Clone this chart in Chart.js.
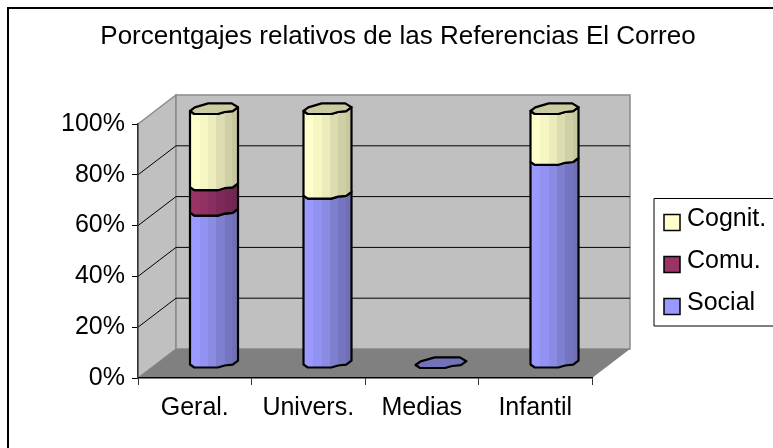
<!DOCTYPE html>
<html><head><meta charset="utf-8">
<style>html,body{margin:0;padding:0;background:#fff}canvas{display:block}</style>
<script src="https://cdn.jsdelivr.net/npm/chart.js@4/dist/chart.umd.min.js"></script>
</head><body><canvas id="c" width="773" height="448"></canvas>
<script>
const categories = ['Geral.', 'Univers.', 'Medias', 'Infantil'];
const social = [60, 66.7, 0, 80];
const comu = [10, 0, 0, 0];
const cognit = [30, 33.3, 0, 20];
const titleText = 'Porcentgajes relativos de las Referencias El Correo';
const FONT = '"Liberation Sans", Arial, sans-serif';

const depth = {dx: 38, dy: -29};           // wall depth
const mid = {dx: 19.25, dy: -13};          // plane of the cylinders
const front = [[0,0],[.09,3],[.58,3],[.72,1],[.89,.2],[1,-3.8]];
const back = [[1,-3.8],[.87,-7.6],[.38,-7.6],[.1,-3.6],[0,0]];
const shades = {
  Social: {stops:['#9999ff','#9292f2','#8b8be4','#7f7fd0','#7575bf','#7070b6'], cap:'#7272b8'},
  'Comu.': {stops:['#993366','#923163','#892e5f','#7d2a58','#752853','#6f2650'], cap:'#7a2a52'},
  'Cognit.': {stops:['#ffffcc','#f6f6c4','#ebebbb','#dcdcb0','#d0d0a6','#c8c8a0'], cap:'#ccccA3'}
};
const facet = [0,.2,.38,.55,.72,.88,1];

function trace(ctx, pts, x, y, w, move){
  pts.forEach((p,i)=>{ const X=x+p[0]*w, Y=y+p[1]; (i===0&&move)?ctx.moveTo(X,Y):ctx.lineTo(X,Y); });
}
function drawCyl(ctx, el, s, showCap){
  const w = el.width, x = el.x - w/2 + mid.dx;
  const yt = el.y + mid.dy, yb = el.base + mid.dy;
  ctx.save();
  ctx.lineJoin='round'; ctx.lineWidth=2.2; ctx.strokeStyle='#000';
  if (yb - yt > 0.5){
    const g = ctx.createLinearGradient(x,0,x+w,0);
    s.stops.forEach((c,i)=>{ g.addColorStop(facet[i],c); g.addColorStop(facet[i+1],c); });
    ctx.beginPath();
    trace(ctx, front, x, yb, w, true);
    trace(ctx, front.slice().reverse(), x, yt, w, false);
    ctx.closePath(); ctx.fillStyle=g; ctx.fill(); ctx.stroke();
  }
  if (showCap){
    const capW = yb - yt > 0.5 ? w : w*1.06, cx = x + (w-capW)/2;
    ctx.beginPath();
    trace(ctx, front, cx, yt, capW, true);
    trace(ctx, back, cx, yt, capW, false);
    ctx.closePath(); ctx.fillStyle=s.cap; ctx.fill(); ctx.stroke();
  }
  ctx.restore();
}

const scene3d = {
  id:'scene3d',
  beforeDatasetDraw(){ return false; },
  afterLayout(chart){ chart.titleBlock.left = 0; chart.titleBlock.right = 796; },
  beforeDraw(chart){
    const {ctx, scales:{x,y}, chartArea:a} = chart;
    const l=a.left, r=a.right, t=a.top, b=a.bottom, d=depth;
    ctx.save();
    // outer frame
    ctx.strokeStyle='#000'; ctx.lineWidth=2;
    ctx.beginPath(); ctx.moveTo(8,448); ctx.lineTo(8,8); ctx.lineTo(773,8); ctx.stroke();
    // walls
    ctx.lineWidth=1.5; ctx.strokeStyle='#8a8a8a'; ctx.fillStyle='#c0c0c0';
    ctx.beginPath(); ctx.moveTo(l,t); ctx.lineTo(l+d.dx,t+d.dy); ctx.lineTo(l+d.dx,b+d.dy); ctx.lineTo(l,b); ctx.closePath(); ctx.fill(); ctx.stroke();
    ctx.beginPath(); ctx.rect(l+d.dx,t+d.dy,r-l,b-t); ctx.fill(); ctx.stroke();
    ctx.fillStyle='#808080';
    ctx.beginPath(); ctx.moveTo(l,b); ctx.lineTo(l+d.dx,b+d.dy); ctx.lineTo(r+d.dx,b+d.dy); ctx.lineTo(r,b); ctx.closePath(); ctx.fill();
    // grid on the walls
    ctx.strokeStyle='#000'; ctx.lineWidth=1;
    y.ticks.forEach(tk=>{
      if (tk.value===0 || tk.value===100) return;
      const p=y.getPixelForValue(tk.value);
      ctx.beginPath(); ctx.moveTo(l,p); ctx.lineTo(l+d.dx,p+d.dy); ctx.lineTo(r+d.dx,p+d.dy); ctx.stroke();
    });
    ctx.restore();
  },
  afterDatasetsDraw(chart){
    const ctx=chart.ctx, n=chart.data.datasets.length;
    chart.data.datasets.forEach((ds,i)=>{
      chart.getDatasetMeta(i).data.forEach((el,j)=>{
        const allZero = chart.data.datasets.every(o=>o.data[j]===0);
        if (allZero) { if (i===0) drawCyl(ctx, el, shades[ds.label], true); return; }
        if (ds.data[j]>0) drawCyl(ctx, el, shades[ds.label], i===n-1);
      });
    });
    // legend
    ctx.save();
    ctx.strokeStyle='#000'; ctx.lineWidth=1; ctx.fillStyle='#fff';
    ctx.beginPath(); ctx.moveTo(775,198.5); ctx.lineTo(654,198.5); ctx.lineTo(654,326); ctx.lineTo(775,326); ctx.fill(); ctx.stroke();
    ctx.textBaseline='middle'; ctx.textAlign='left'; ctx.font='25px '+FONT;
    chart.data.datasets.slice().reverse().forEach((ds,i)=>{
      const yy=214.5+i*42;
      ctx.fillStyle=ds.backgroundColor; ctx.lineWidth=1.5; ctx.strokeStyle='#000';
      ctx.fillRect(664,yy,16,16); ctx.strokeRect(664,yy,16,16);
      ctx.fillStyle='#000'; ctx.fillText(ds.label,687,yy+5);
    });
    ctx.restore();
  }
};

new Chart(document.getElementById('c'), {
  type:'bar',
  data:{labels:categories, datasets:[
    {label:'Social', data:social, backgroundColor:'#9999ff'},
    {label:'Comu.', data:comu, backgroundColor:'#993366'},
    {label:'Cognit.', data:cognit, backgroundColor:'#ffffcc'}
  ]},
  plugins:[scene3d],
  options:{
    responsive:false, animation:false, events:[],
    barPercentage:.846, categoryPercentage:.5,
    layout:{padding:{left:0,right:181,top:0,bottom:0}},
    plugins:{
      legend:{display:false}, tooltip:{enabled:false},
      title:{display:true, text:titleText, color:'#000',
        font:{family:FONT,size:26,weight:'normal',lineHeight:1.2},
        padding:{top:21,bottom:71.8}}
    },
    scales:{
      x:{stacked:true, offset:true,
        afterFit:s=>{s.height=70;},
        grid:{offset:true, drawOnChartArea:false, color:'#000', tickLength:7, tickColor:'#333'},
        border:{color:'#000', width:1.5},
        ticks:{color:'#000', padding:8, maxRotation:0, font:{family:FONT,size:25}}},
      y:{stacked:true, min:0, max:100,
        afterFit:s=>{s.width=138;},
        grid:{drawOnChartArea:false, color:'#000', tickLength:6},
        border:{color:'#333', width:1.5},
        ticks:{stepSize:20, color:'#000', padding:7, font:{family:FONT,size:25}, callback:v=>v+'%'}}
    }
  }
});
</script></body></html>
